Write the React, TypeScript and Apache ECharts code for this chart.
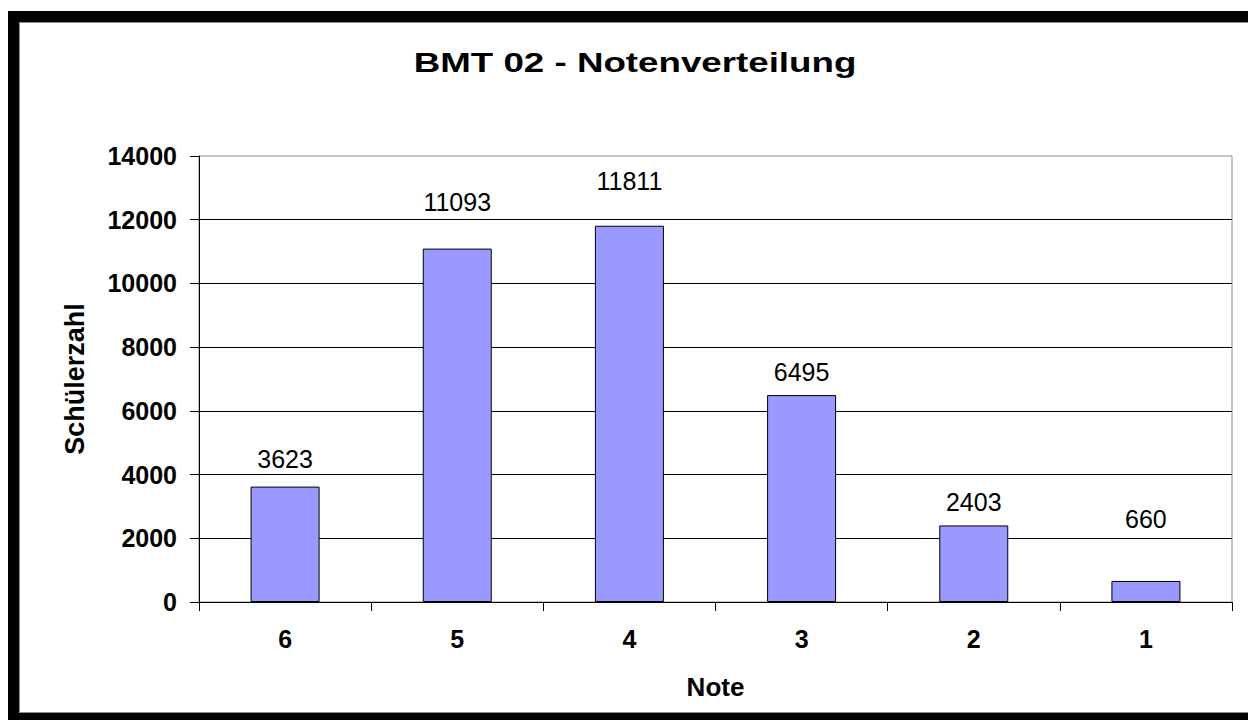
import React, { useEffect, useRef } from "react";
import * as echarts from "echarts";

const titleText = "BMT 02 - Notenverteilung";
const categories = ["6", "5", "4", "3", "2", "1"];
const counts = [3623, 11093, 11811, 6495, 2403, 660];
const labelGaps = [15, 34, 32, 11, 11, 49];
const yName = "Schülerzahl";
const xName = "Note";

export default function App() {
  const ref = useRef<HTMLDivElement>(null);
  useEffect(() => {
    if (!ref.current) return;
    const chart = echarts.init(ref.current, null, { renderer: "svg" });
    const font = "'Liberation Sans', Arial, sans-serif";
    chart.setOption({
      animation: false,
      backgroundColor: "#fff",
      graphic: [
        {
          type: "rect",
          z: -10,
          silent: true,
          shape: { x: 13.5, y: 16.5, width: 1300, height: 702 },
          style: { fill: "none", stroke: "#000", lineWidth: 11 },
        },
        {
          type: "rect",
          z: -10,
          silent: true,
          shape: { x: 19.5, y: 22.5, width: 1300, height: 690 },
          style: { fill: "none", stroke: "#8c8c8c", lineWidth: 1 },
        },
        {
          type: "text",
          x: 635,
          y: 63,
          scaleX: 1.36,
          style: {
            text: titleText,
            align: "center",
            verticalAlign: "middle",
            fontFamily: font,
            fontWeight: "bold",
            fontSize: 27,
            fill: "#000",
          },
        },
      ],
      grid: {
        left: 199,
        top: 156,
        right: 16,
        bottom: 118,
        show: true,
        borderColor: "#8c8c8c",
        borderWidth: 1,
        backgroundColor: "transparent",
      },
      xAxis: {
        type: "category",
        data: categories,
        name: xName,
        nameLocation: "middle",
        nameGap: 72,
        nameTextStyle: { fontFamily: font, fontWeight: "bold", fontSize: 26, color: "#000" },
        axisLine: { lineStyle: { color: "#000", width: 1 } },
        axisTick: { show: true, length: 9, interval: 0, lineStyle: { color: "#000" } },
        axisLabel: { margin: 24, fontFamily: font, fontWeight: "bold", fontSize: 25, color: "#000" },
        splitLine: { show: false },
      },
      yAxis: {
        type: "value",
        min: 0,
        max: 14000,
        interval: 2000,
        name: yName,
        nameLocation: "middle",
        nameGap: 111,
        nameRotate: 90,
        nameTextStyle: { fontFamily: font, fontWeight: "bold", fontSize: 27, color: "#000" },
        axisLine: { show: true, lineStyle: { color: "#000", width: 1 } },
        axisTick: { show: true, length: 9, lineStyle: { color: "#000" } },
        axisLabel: {
          margin: 22,
          fontFamily: font,
          fontWeight: "bold",
          fontSize: 25,
          color: "#000",
          formatter: (v: number) => String(v),
        },
        splitLine: { show: true, showMaxLine: false, lineStyle: { color: "#000", width: 1 } },
      },
      series: [
        {
          type: "bar",
          barWidth: 69,
          data: counts.map((v, i) => ({ value: v, label: { distance: labelGaps[i] } })),
          itemStyle: { color: "#9999ff", borderColor: "#000", borderWidth: 1 },
          label: {
            show: true,
            position: "top",
            fontFamily: font,
            fontSize: 25,
            color: "#000",
          },
        },
      ],
    });
    return () => chart.dispose();
  }, []);
  return (
    <div
      ref={ref}
      style={{ position: "absolute", left: 0, top: 0, width: 1248, height: 720 }}
    />
  );
}
